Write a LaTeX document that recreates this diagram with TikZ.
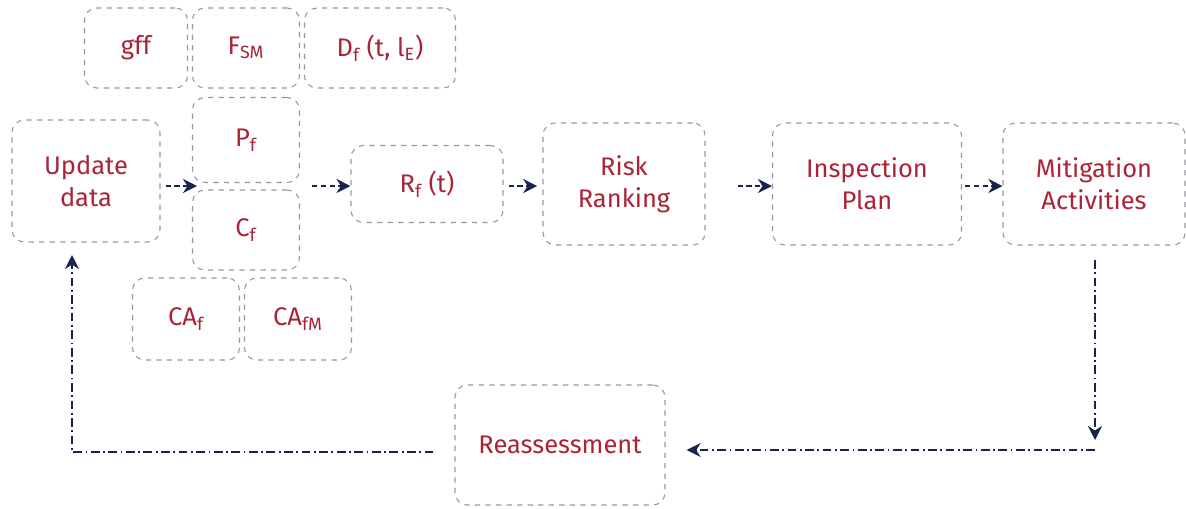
\documentclass[tikz,border=0pt]{standalone}
\usepackage{fontspec}
\setmainfont{Fira Sans}
\usetikzlibrary{arrows.meta}
\definecolor{boxline}{RGB}{150,150,160}
\definecolor{txt}{RGB}{170,35,55}
\definecolor{navy}{RGB}{25,35,80}
\tikzset{
  blk/.style={draw=boxline, dashed, line width=0.6pt, rounded corners=7pt,
    minimum width=#1, align=center, text=txt, font=\fontsize{14.5}{18}\selectfont,
    inner sep=0pt},
  blk/.default=2cm,
  flow/.style={draw=navy, dash pattern=on 3pt off 2pt, line width=1pt,
    -{Stealth[length=8pt,width=8pt]}},
  loop/.style={draw=navy, dash pattern=on 5pt off 2pt on 1pt off 2pt, line width=1pt,
    -{Stealth[length=8pt,width=8pt]}},
}
\begin{document}
\begin{tikzpicture}[x=0.02cm, y=-0.02cm]
\useasboundingbox (0,0) rectangle (1186,508);
% top row of inputs
\node[blk=103*0.02cm, minimum height=80*0.02cm] (gff) at (136,48) {gff};
\node[blk=107*0.02cm, minimum height=80*0.02cm] (fsm) at (246,48) {F\textsubscript{SM}};
\node[blk=151*0.02cm, minimum height=80*0.02cm] (df) at (380,48) {D\textsubscript{f} (t, l\textsubscript{E})};
% main chain
\node[blk=148*0.02cm, minimum height=122*0.02cm] (upd) at (86,181) {Update\\data};
\node[blk=107*0.02cm, minimum height=85*0.02cm] (pf) at (246,140) {P\textsubscript{f}};
\node[blk=107*0.02cm, minimum height=80*0.02cm] (cf) at (246,230) {C\textsubscript{f}};
\node[blk=107*0.02cm, minimum height=82*0.02cm] (caf) at (186,319) {CA\textsubscript{f}};
\node[blk=107*0.02cm, minimum height=82*0.02cm] (cafm) at (298,319) {CA\textsubscript{fM}};
\node[blk=152*0.02cm, minimum height=77*0.02cm] (rf) at (427,184) {R\textsubscript{f} (t)};
\node[blk=162*0.02cm, minimum height=122*0.02cm] (rr) at (624,184) {Risk\\Ranking};
\node[blk=189*0.02cm, minimum height=122*0.02cm] (ip) at (867,184) {Inspection\\Plan};
\node[blk=182*0.02cm, minimum height=122*0.02cm] (ma) at (1094,184) {Mitigation\\Activities};
\node[blk=210*0.02cm, minimum height=120*0.02cm] (ra) at (560,445) {Reassessment};
% junction between P_f and C_f
\coordinate (pc) at (197,186);
\draw[flow] (upd.east |- pc) ++(5,0) -- (pc);
\draw[flow] (312,186) -- (rf.west |- 0,186);
\draw[flow] (rf.east |- 0,186) ++(5,0) -- ([xshift=-3]rr.west |- 0,186);
\draw[flow] (rr.east |- 0,186) ++(32,0) -- (ip.west |- 0,186);
\draw[flow] (ip.east |- 0,186) ++(3,0) -- (ma.west |- 0,186);
% feedback loop
\coordinate (cr) at (1095,450);
\coordinate (cl) at (72,452);
\draw[loop] (1095,260) -- (1095,440);
\draw[loop] (cr) -- ([xshift=12]ra.east |- cr);
\draw[loop] ([xshift=-12]ra.west |- cl) -- (cl) -- (72,255);
\end{tikzpicture}
\end{document}
